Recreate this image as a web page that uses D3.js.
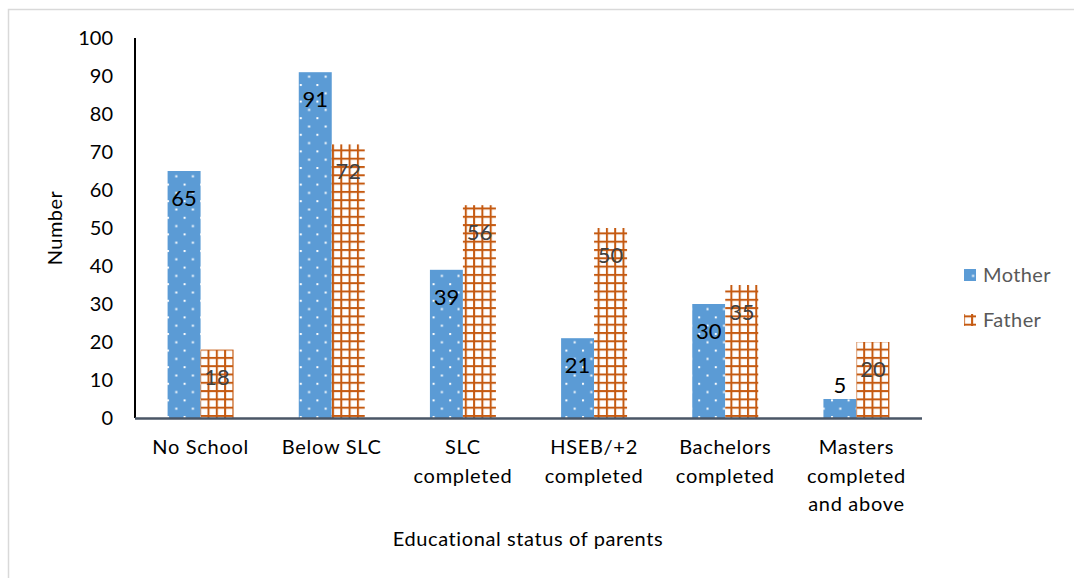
<!DOCTYPE html>
<html>
<head>
<meta charset="utf-8">
<script src="https://cdn.jsdelivr.net/npm/d3@7"></script>
<style>
  html, body { margin: 0; padding: 0; background: #fff; }
  svg { display: block; font-family: "Lato", "Open Sans", sans-serif; }
</style>
</head>
<body>
<svg id="chart" width="1074" height="578"></svg>
<script>
// Educational status of parents
const categories = [
  ["No School"],
  ["Below SLC"],
  ["SLC", "completed"],
  ["HSEB/+2", "completed"],
  ["Bachelors", "completed"],
  ["Masters", "completed", "and above"]
];
const mother = [65, 91, 39, 21, 30, 5];
const father = [18, 72, 56, 50, 35, 20];
const seriesNames = ["Mother", "Father"];
const yTicks = [0, 10, 20, 30, 40, 50, 60, 70, 80, 90, 100];

const svg = d3.select("#chart");
const defs = svg.append("defs");

// Dotted fill for Mother
const dots = defs.append("pattern")
  .attr("id", "dots").attr("patternUnits", "userSpaceOnUse")
  .attr("width", 16.6).attr("height", 16.6);
dots.append("rect").attr("width", 16.6).attr("height", 16.6).attr("fill", "#5B9BD5");
dots.append("rect").attr("x", 1).attr("y", 1).attr("width", 2).attr("height", 2).attr("fill", "#fff");
dots.append("rect").attr("x", 9.3).attr("y", 9.3).attr("width", 2).attr("height", 2).attr("fill", "#fff");

// Grid fill for Father
const grid = defs.append("pattern")
  .attr("id", "grid").attr("patternUnits", "userSpaceOnUse")
  .attr("width", 8.3).attr("height", 8.3);
grid.append("rect").attr("width", 8.3).attr("height", 8.3).attr("fill", "#fff");
grid.append("rect").attr("x", 0).attr("y", 0).attr("width", 2).attr("height", 8.3).attr("fill", "#C55A11");
grid.append("rect").attr("x", 0).attr("y", 0).attr("width", 8.3).attr("height", 2).attr("fill", "#C55A11");

// Outer frame
svg.append("rect")
  .attr("x", 8.5).attr("y", 9.5).attr("width", 1100).attr("height", 600)
  .attr("fill", "none").attr("stroke", "#D9D9D9").attr("stroke-width", 1.5);

const plot = { left: 135, right: 922, top: 38, bottom: 418 };

const x0 = d3.scaleBand()
  .domain(d3.range(categories.length))
  .range([plot.left, plot.right])
  .paddingInner(0).paddingOuter(0);

const groupFrac = 0.503;
const x1 = d3.scaleBand()
  .domain(seriesNames)
  .range([0, x0.bandwidth() * groupFrac]);

const y = d3.scaleLinear().domain([0, 100]).range([plot.bottom, plot.top]);

// Y axis line and tick labels
svg.append("line")
  .attr("x1", plot.left).attr("x2", plot.left)
  .attr("y1", y(100)).attr("y2", y(0))
  .attr("stroke", "#000").attr("stroke-width", 2);

svg.append("g").selectAll("text").data(yTicks).join("text")
  .attr("x", 113).attr("y", d => y(d))
  .attr("dy", "0.36em")
  .attr("text-anchor", "end")
  .attr("font-size", 20).attr("fill", "#000")
  .text(d => d);

// Bars
const series = [
  { name: "Mother", values: mother, fill: "url(#dots)", labelColor: "#000" },
  { name: "Father", values: father, fill: "url(#grid)", labelColor: "#404040" }
];

const groupOffset = (x0.bandwidth() - x0.bandwidth() * groupFrac) / 2;

series.forEach(s => {
  const g = svg.append("g");
  g.selectAll("rect").data(s.values).join("rect")
    .attr("x", (d, i) => x0(i) + groupOffset + x1(s.name))
    .attr("y", d => y(d))
    .attr("width", x1.bandwidth())
    .attr("height", d => y(0) - y(d))
    .attr("fill", s.fill);
  g.selectAll("text").data(s.values).join("text")
    .attr("x", (d, i) => x0(i) + groupOffset + x1(s.name) + x1.bandwidth() / 2)
    .attr("y", d => (y(0) - y(d) > 30) ? y(d) + 27 : y(d) - 14)
    .attr("dy", "0.36em")
    .attr("text-anchor", "middle")
    .attr("font-size", 22)
    .attr("fill", s.labelColor)
    .text(d => d);
});

// X axis line
svg.append("line")
  .attr("x1", plot.left).attr("x2", plot.right)
  .attr("y1", y(0) + 0.5).attr("y2", y(0) + 0.5)
  .attr("stroke", "#4A5666").attr("stroke-width", 2.5);

// Category labels
const catG = svg.append("g");
categories.forEach((lines, i) => {
  const t = catG.append("text")
    .attr("x", x0(i) + x0.bandwidth() / 2)
    .attr("y", 454)
    .attr("text-anchor", "middle")
    .attr("font-size", 20).attr("letter-spacing", 0.7).attr("fill", "#000");
  lines.forEach((ln, j) => {
    t.append("tspan")
      .attr("x", x0(i) + x0.bandwidth() / 2)
      .attr("dy", j === 0 ? 0 : 28.5)
      .text(ln);
  });
});

// Axis titles
svg.append("text")
  .attr("transform", `translate(62, ${(plot.top + plot.bottom) / 2}) rotate(-90)`)
  .attr("text-anchor", "middle")
  .attr("font-size", 20).attr("letter-spacing", 0.5).attr("fill", "#000")
  .text("Number");

svg.append("text")
  .attr("x", 528).attr("y", 546)
  .attr("text-anchor", "middle")
  .attr("font-size", 20).attr("letter-spacing", 0.6).attr("fill", "#000")
  .text("Educational status of parents");

// Legend
const legend = svg.append("g");
const legendItems = [
  { name: "Mother", fill: "url(#dots)", y: 275 },
  { name: "Father", fill: "url(#grid)", y: 320 }
];
legendItems.forEach(it => {
  legend.append("rect")
    .attr("x", 964).attr("y", it.y - 6).attr("width", 12).attr("height", 12)
    .attr("fill", it.fill);
  legend.append("text")
    .attr("x", 983).attr("y", it.y)
    .attr("dy", "0.36em")
    .attr("font-size", 20).attr("letter-spacing", 0.4).attr("fill", "#595959")
    .text(it.name);
});
</script>
</body>
</html>
